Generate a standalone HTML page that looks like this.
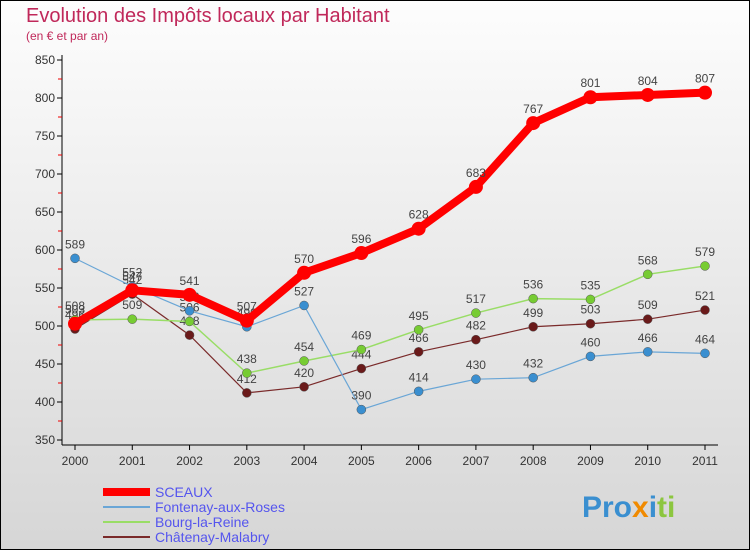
<!DOCTYPE html>
<html><head><meta charset="utf-8"><style>
body{margin:0;background:#fff}
svg{display:block;font-family:"Liberation Sans",sans-serif}
</style></head><body>
<svg id="c" width="750" height="550" viewBox="0 0 750 550">
<defs><linearGradient id="bg" x1="0" y1="0" x2="0" y2="1"><stop offset="0" stop-color="#fdfdfd"/><stop offset="1" stop-color="#d6d6d6"/></linearGradient></defs>
<rect x="0.5" y="0.5" width="749" height="549" fill="url(#bg)" stroke="#000"/>
<text x="26" y="22" font-size="20" fill="#c0285a">Evolution des Impôts locaux par Habitant</text>
<text x="26" y="40" font-size="12" fill="#c0285a">(en € et par an)</text>
<g id="axes"></g>
<g id="series"></g>
<g id="legend"></g>
<text x="582" y="517" font-size="30" font-weight="bold" fill="#3a8fd0">Pro<tspan fill="#f08a00">x</tspan><tspan fill="#3a8fd0">i</tspan><tspan fill="#8cc63f">ti</tspan></text>
</svg>
<script>
const years=["2000","2001","2002","2003","2004","2005","2006","2007","2008","2009","2010","2011"];
const yTicks=[350,400,450,500,550,600,650,700,750,800,850];
const sceaux=[503,547,541,507,570,596,628,683,767,801,804,807];
const fontenay=[589,552,520,499,527,390,414,430,432,460,466,464];
const bourg=[508,509,506,438,454,469,495,517,536,535,568,579];
const chatenay=[496,542,488,412,420,444,466,482,499,503,509,521];
const seriesNames=["SCEAUX","Fontenay-aux-Roses","Bourg-la-Reine","Châtenay-Malabry"];
const NS="http://www.w3.org/2000/svg";
const X=i=>75+i*(630/11);
const Y=v=>440-(v-350)*0.76;
function mk(t,a,p){const e=document.createElementNS(NS,t);for(const k in a)e.setAttribute(k,a[k]);p.appendChild(e);return e;}
const ax=document.getElementById('axes');
const yl=mk('line',{x1:62,y1:55,x2:62,y2:445,stroke:'#000'},ax);


const xl=mk('line',{x1:62,y1:445,x2:718,y2:445,stroke:'#000'},ax);


yTicks.forEach((v,i)=>{
 mk('line',{x1:57,y1:Y(v),x2:62,y2:Y(v),stroke:'#000'},ax);
 if(i<yTicks.length-1)mk('line',{x1:58,y1:Y(v+25),x2:62,y2:Y(v+25),stroke:'#e00'},ax);
 const t=mk('text',{x:55,y:Y(v)+4,'font-size':12,'text-anchor':'end',fill:'#333'},ax);
 t.textContent=v;
 
 
});
years.forEach((y,i)=>{
 mk('line',{x1:X(i),y1:445,x2:X(i),y2:450,stroke:'#000'},ax);
 const t=mk('text',{x:X(i),y:465,'font-size':12,'text-anchor':'middle',fill:'#333'},ax);
 t.textContent=y;
 
 
});
const sg=document.getElementById('series');
function draw(data,color,dot,w,r,name){
 const g=mk('g',{},sg);
 
 
 mk('polyline',{points:data.map((v,i)=>X(i)+','+Y(v)).join(' '),fill:'none',stroke:color,'stroke-width':w},g);
 data.forEach((v,i)=>{
  const c=mk('circle',{cx:X(i),cy:Y(v),r:r,fill:dot,stroke:w>3?'none':'#555','stroke-width':0.5},g);
  
  
  const t=mk('text',{x:X(i),y:Y(v)-10,'font-size':12,'text-anchor':'middle',fill:'#444'},g);
  t.textContent=v;
  
  
 });
}
draw(chatenay,'#7a2a2a','#6a1a1a',1.2,4.5,'chatenay-series');
draw(bourg,'#99dd66','#77cc33',1.5,4.5,'bourg-series');
draw(fontenay,'#6aa6d6','#3a8fd0',1.2,4.5,'fontenay-series');
draw(sceaux,'#ff0000','#ff0000',8,7,'sceaux-series');
const lg=document.getElementById('legend');
const lc=[['#ff0000',8],['#6aa6d6',2],['#99dd66',2],['#7a2a2a',2]];
seriesNames.forEach((n,i)=>{
 const y=492+i*15;
 const l=mk('line',{x1:103,y1:y,x2:150,y2:y,stroke:lc[i][0],'stroke-width':lc[i][1]},lg);
 
 
 const t=mk('text',{x:155,y:y+5,'font-size':14,fill:'#5555ee'},lg);
 t.textContent=n;
 
 
});
</script>
</body></html>
